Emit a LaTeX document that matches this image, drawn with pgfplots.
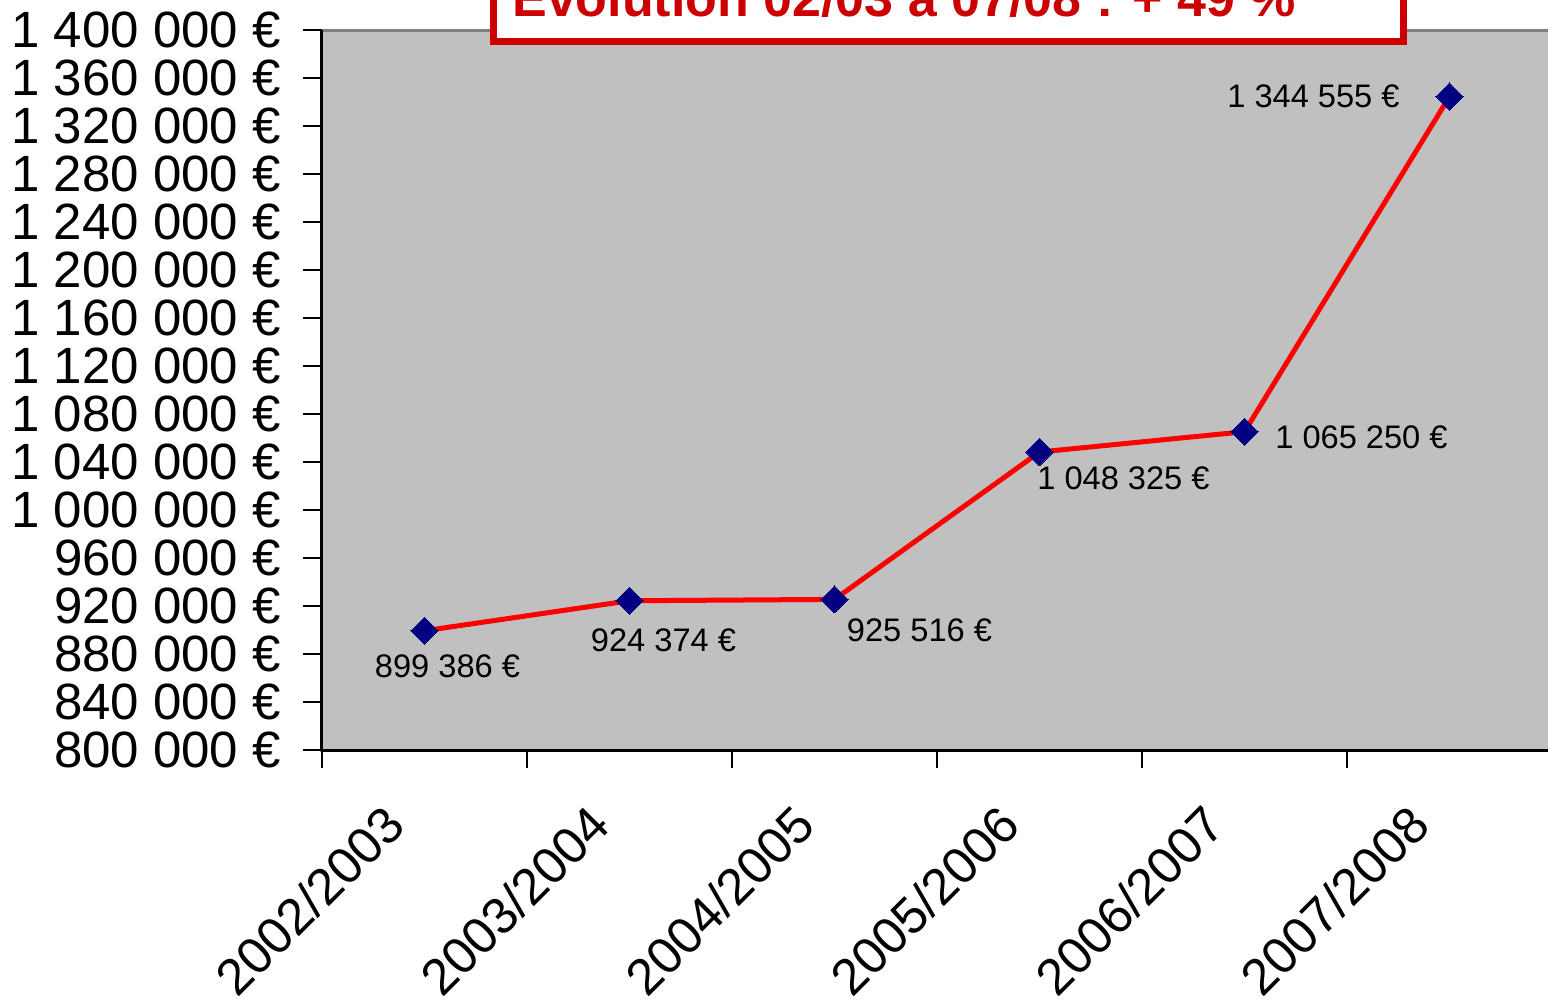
\documentclass[border=0pt]{standalone}
\usepackage{fontspec}
\setmainfont{Liberation Sans}
\usepackage{pgfplots}
\pgfplotsset{compat=1.18}
\definecolor{plotgray}{HTML}{C0C0C0}
\definecolor{bordergray}{HTML}{808080}
\definecolor{navy}{HTML}{000080}
\definecolor{titlered}{HTML}{CC0000}
\begin{document}
\begin{tikzpicture}
\useasboundingbox (-161pt,-126.5pt) rectangle (613pt,375pt);
\clip (-161pt,-126.5pt) rectangle (613pt,375pt);
\begin{axis}[
  at={(0pt,0pt)}, anchor=south west,
  scale only axis, width=615pt, height=360pt,
  xmin=-0.5, xmax=5.5, ymin=800000, ymax=1400000,
  axis x line*=bottom, axis y line*=left,
  axis line style={line width=1.5pt, black},
  axis background/.style={fill=plotgray, draw=bordergray, line width=1.5pt},
  scaled y ticks=false,
  ytick={800000,840000,880000,920000,960000,1000000,1040000,1080000,1120000,1160000,1200000,1240000,1280000,1320000,1360000,1400000},
  yticklabels={800 000 €,840 000 €,880 000 €,920 000 €,960 000 €,1 000 000 €,1 040 000 €,1 080 000 €,1 120 000 €,1 160 000 €,1 200 000 €,1 240 000 €,1 280 000 €,1 320 000 €,1 360 000 €,1 400 000 €},
  xtick={0,1,2,3,4,5},
  xticklabels={2002/2003,2003/2004,2004/2005,2005/2006,2006/2007,2007/2008},
  minor xtick={-0.5,0.5,1.5,2.5,3.5,4.5,5.5},
  tick align=outside,
  major tick length=9.5pt, minor tick length=9pt,
  y tick style={line width=1pt, black},
  major x tick style={draw=none},
  minor x tick style={line width=1pt, black},
  ticklabel style={font=\fontsize{25.5}{28}\selectfont},
  yticklabel style={xshift=-7.5pt},
  xticklabel style={rotate=45, anchor=north east, xshift=-23.3pt, yshift=7.1pt},
  clip=false,
]
\addplot[red, line width=2.5pt, mark=square*, mark size=4.8pt,
  mark options={fill=navy, draw=navy, rotate=45, line width=0pt}]
  coordinates {(0,899386) (1,924374) (2,925516) (3,1048325) (4,1065250) (5,1344555)};
\begin{scope}[every node/.style={font=\fontsize{16.3}{19}\selectfont, inner sep=0pt}]
\node[xshift=11.5pt, yshift=-18pt] at (axis cs:0,899386) {899 386 €};
\node[xshift=17pt, yshift=-20pt] at (axis cs:1,924374) {924 374 €};
\node[xshift=42.5pt, yshift=-15.5pt] at (axis cs:2,925516) {925 516 €};
\node[xshift=42pt, yshift=-13pt] at (axis cs:3,1048325) {1 048 325 €};
\node[xshift=58.5pt, yshift=-3pt] at (axis cs:4,1065250) {1 065 250 €};
\node[xshift=-68pt, yshift=0pt] at (axis cs:5,1344555) {1 344 555 €};
\end{scope}
\end{axis}
\draw[titlered, line width=3.5pt, fill=white] (85.75pt,354.25pt) rectangle (540.75pt,400pt);
\node[anchor=base west, text=titlered, font=\bfseries\fontsize{26}{30}\selectfont, inner sep=0pt] at (95pt,366.5pt) {Évolution 02/03 à 07/08 : + 49 \%};
\end{tikzpicture}
\end{document}
